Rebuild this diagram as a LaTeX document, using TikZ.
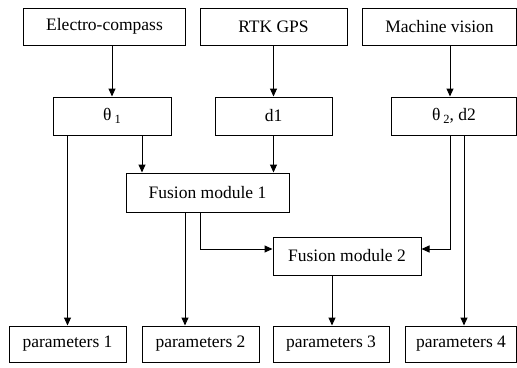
\documentclass[tikz,border=0pt]{standalone}
\usepackage{fontspec}
\setmainfont{Liberation Serif}
\usetikzlibrary{arrows.meta,calc}
\begin{document}
\begin{tikzpicture}[x=1pt,y=-1pt,
  box/.style={draw=black,line width=1pt,inner sep=0pt,font=\fontsize{17.5}{19}\selectfont},
  arr/.style={draw=black,line width=1pt,-{Triangle[length=8pt,width=7pt]}}]
\useasboundingbox (0,0) rectangle (517,367);
% top row
\node[box,minimum width=162pt,minimum height=37pt] (ec) at (104.5,26.5) {Electro-compass};
\node[box,minimum width=147pt,minimum height=37pt] (rtk) at (273.5,26.5) {RTK GPS};
\node[box,minimum width=154pt,minimum height=37pt] (mv) at (439.5,26.5) {Machine vision};
% second row
\node[box,minimum width=118pt,minimum height=38pt] (t1) at (112,116) {θ\,\raisebox{-0.3ex}{\fontsize{12.5}{14}\selectfont 1}};
\node[box,minimum width=117pt,minimum height=38pt] (d1) at (273.5,116) {d1};
\node[box,minimum width=125pt,minimum height=38pt] (t2) at (454,116) {θ\,\raisebox{-0.3ex}{\fontsize{12.5}{14}\selectfont 2}, d2};
% fusion modules
\node[box,minimum width=163pt,minimum height=39pt] (f1) at (207.5,192.5) {Fusion module 1};
\node[box,minimum width=148pt,minimum height=38pt] (f2) at (347,256) {Fusion module 2};
% bottom row
\node[box,minimum width=117pt,minimum height=36pt] (p1) at (67.5,344) {parameters 1};
\node[box,minimum width=117pt,minimum height=36pt] (p2) at (200.5,344) {parameters 2};
\node[box,minimum width=116pt,minimum height=36pt] (p3) at (331,344) {parameters 3};
\node[box,minimum width=111pt,minimum height=36pt] (p4) at (461,344) {parameters 4};
% connectors
\draw[arr] (t1.north |- ec.south) -- (t1.north);
\draw[arr] (rtk.south) -- (d1.north);
\draw[arr] ([xshift=-4pt]t2.north |- mv.south) -- ([xshift=-4pt]t2.north);
\draw[arr] (p1.north |- t1.south) -- (p1.north);
\draw[arr] ([xshift=30pt]t1.south) -- ([xshift=30pt]t1.south |- f1.north);
\draw[arr] (d1.south) -- (d1.south |- f1.north);
\draw[arr] ([xshift=-4pt]t2.south) |- ([yshift=7pt]f2.east);
\draw[arr] ([xshift=10pt]t2.south) -- ([xshift=10pt]t2.south |- p4.north);
\draw[arr] ([xshift=-22.5pt]f1.south) -- ([xshift=-22.5pt]f1.south |- p2.north);
\draw[arr] ([xshift=-7.5pt]f1.south) |- ([yshift=7pt]f2.west);
\draw[arr] ([xshift=1pt]p3.north |- f2.south) -- ([xshift=1pt]p3.north);
\end{tikzpicture}
\end{document}
